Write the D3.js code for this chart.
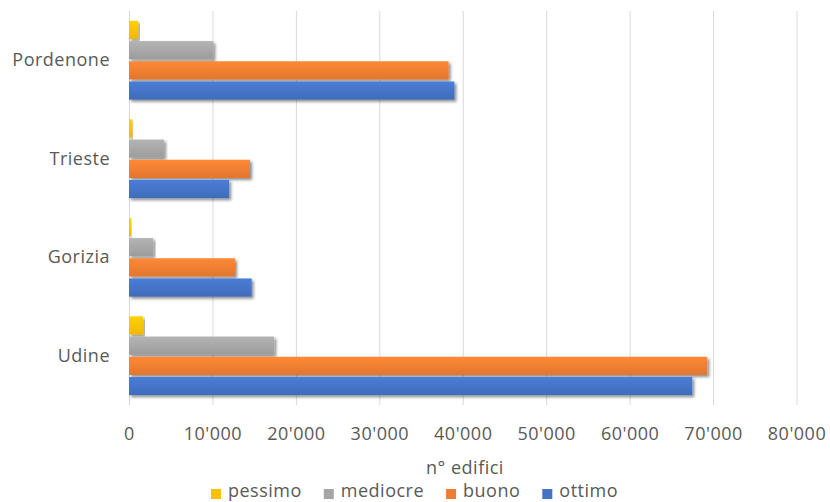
<!DOCTYPE html>
<html><head><meta charset="utf-8">
<script src="https://cdn.jsdelivr.net/npm/d3@7"></script>
<style>body{margin:0;background:#fff;} text{font-family:"Open Sans", sans-serif; letter-spacing:0.5px;}</style>
</head><body><svg id="c" width="830" height="502"></svg>
<script>
const categories = ["Pordenone", "Trieste", "Gorizia", "Udine"];
const seriesNames = ["pessimo", "mediocre", "buono", "ottimo"];
const pessimo  = [1100, 400, 250, 1700];
const mediocre = [10100, 4200, 2900, 17400];
const buono    = [38300, 14500, 12700, 69300];
const ottimo   = [39000, 12000, 14700, 67500];
const tickValues = [0, 10000, 20000, 30000, 40000, 50000, 60000, 70000, 80000];
const tickLabels = ["0", "10'000", "20'000", "30'000", "40'000", "50'000", "60'000", "70'000", "80'000"];
const colors = ["#FFC000", "#A5A5A5", "#ED7D31", "#4472C4"];

const values = [pessimo, mediocre, buono, ottimo];
const svg = d3.select("#c");
const W = 830, H = 502;
const m = {l:129, r:W-796.5, t:11, b:H-405};
const FS = 18, TC = "#595959";

const defs = svg.append("defs");
const f = defs.append("filter").attr("id","sh").attr("x","-5%").attr("y","-30%").attr("width","115%").attr("height","180%");
f.append("feDropShadow").attr("dx",2).attr("dy",2).attr("stdDeviation",1.6).attr("flood-color","#000").attr("flood-opacity",0.45);
colors.forEach((c,i)=>{
  const g = defs.append("linearGradient").attr("id","g"+i).attr("x1",0).attr("y1",0).attr("x2",0).attr("y2",1);
  g.append("stop").attr("offset","0").attr("stop-color", d3.color(c).brighter(0.25));
  g.append("stop").attr("offset","1").attr("stop-color", d3.color(c).darker(0.15));
});

const x = d3.scaleLinear().domain([0, 80000]).range([m.l, W-m.r]);
const y = d3.scaleBand().domain(categories).range([m.t, H-m.b]).paddingInner(0.2).paddingOuter(0.1);
const ys = d3.scaleBand().domain(seriesNames).range([0, y.bandwidth()]).paddingInner(0.1);

// gridlines
svg.append("g").selectAll("line").data(tickValues).join("line")
  .attr("x1", d=>x(d)+0.5).attr("x2", d=>x(d)+0.5)
  .attr("y1", m.t).attr("y2", H-m.b)
  .attr("stroke","#d9d9d9").attr("stroke-width",1);

// bars
const data = [];
categories.forEach((c,ci)=>seriesNames.forEach((s,si)=>data.push({c, s, si, v: values[si][ci]})));
svg.append("g").selectAll("rect").data(data).join("rect")
  .attr("x", x(0)).attr("y", d=>y(d.c)+ys(d.s))
  .attr("width", d=>x(d.v)-x(0)).attr("height", ys.bandwidth())
  .attr("fill", d=>"url(#g"+d.si+")")
  .attr("filter","url(#sh)");

// axes
const xa = d3.axisBottom(x).tickValues(tickValues).tickFormat((d,i)=>tickLabels[i]).tickSize(0).tickPadding(0);
const gx = svg.append("g").attr("transform",`translate(0,${H-m.b})`).call(xa);
gx.select(".domain").remove();
gx.selectAll("text").attr("y", 35).attr("dy", null).attr("font-size", FS).attr("fill",TC).attr("font-family",null);

const ya = d3.axisLeft(y).tickSize(0).tickPadding(0);
const gy = svg.append("g").attr("transform",`translate(${m.l-19},0)`).call(ya);
gy.select(".domain").remove();
gy.selectAll("text").attr("font-size", FS).attr("fill",TC).attr("dy","0.33em").attr("font-family",null);

svg.append("text").attr("x", 465).attr("y", 474).attr("text-anchor","middle")
  .attr("font-size", FS).attr("fill",TC).text("n° edifici");

// legend (flow layout)
let lx = 211;
seriesNames.forEach((s,i)=>{
  const g = svg.append("g").attr("transform",`translate(${lx},0)`);
  g.append("rect").attr("x",0).attr("y",489).attr("width",10).attr("height",10).attr("fill",colors[i]);
  const t = g.append("text").attr("x",17).attr("y",497).attr("font-size",FS).attr("fill",TC).text(s);
  lx += 17 + t.node().getComputedTextLength() + 22;
});
</script></body></html>
